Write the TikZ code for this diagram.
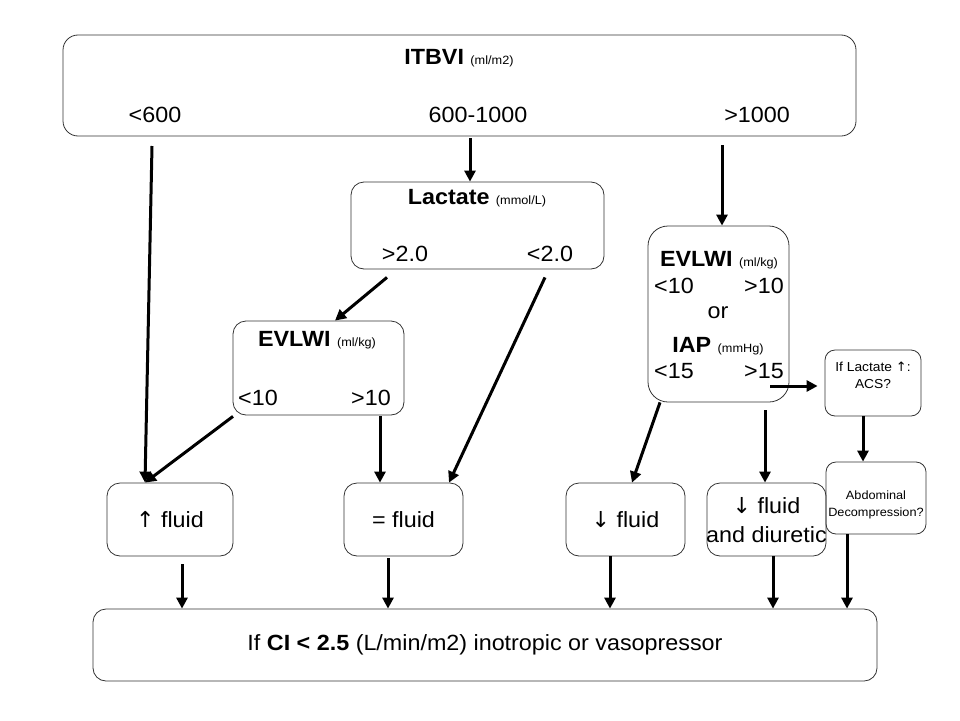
\documentclass[tikz,border=0pt]{standalone}
\usepackage{fontspec}
\setmainfont{Liberation Sans}[FakeStretch=1.06]
\newfontfamily\arrowfont{DejaVu Sans}
\usetikzlibrary{arrows.meta}
\begin{document}
\begin{tikzpicture}[x=1pt,y=-1pt,
  box/.style={draw=black!80, line width=0.8pt, rounded corners=13pt, inner sep=0pt},
  arr/.style={-{Triangle[length=11pt,width=11pt]}, line width=3pt},
  big/.style={font=\fontsize{22}{29}\selectfont, inner sep=0pt, align=center},
  sm/.style={inner sep=0pt, align=center}
]
\useasboundingbox (0,0) rectangle (960,720);
% boxes
\node[box, minimum width=793pt, minimum height=101pt, rounded corners=15pt] (itbvi) at (459.5,85.5) {};
\node[box, minimum width=253pt, minimum height=87pt] (lactate) at (477.5,225.5) {};
\node[box, minimum width=171pt, minimum height=94pt] (evl) at (318.5,368) {};
\node[box, minimum width=141pt, minimum height=176pt, rounded corners=20pt] (evr) at (718.5,314) {};
\node[box, minimum width=96pt, minimum height=66pt, rounded corners=10pt] (iflac) at (873,383) {};
\node[box, minimum width=100pt, minimum height=72pt, rounded corners=10pt] (abd) at (876,498) {};
\node[box, minimum width=126pt, minimum height=73pt] (upfluid) at (170,519.5) {};
\node[box, minimum width=119pt, minimum height=73pt] (eqfluid) at (403.5,519.5) {};
\node[box, minimum width=119pt, minimum height=73pt] (downfluid) at (625.5,519.5) {};
\node[box, minimum width=119pt, minimum height=73pt] (diuretic) at (766.5,519.5) {};
\node[box, minimum width=784pt, minimum height=72pt] (bottom) at (485,645) {};
% texts
\node[big] (t-itbvi) at (459,58) {\textbf{ITBVI} {\fontsize{12}{14}\selectfont (ml/m2)}};
\node[big] (lt600) at (155,115) {<600};
\node[big] (mid) at (478,115) {600-1000};
\node[big] (gt1000) at (757,115) {>1000};
\node[big] (t-lac) at (477,198) {\textbf{Lactate} {\fontsize{12}{14}\selectfont (mmol/L)}};
\node[big] (gt2) at (405,254) {>2.0};
\node[big] (lt2) at (550,254) {<2.0};
\node[big] (t-evl) at (317,340) {\textbf{EVLWI} {\fontsize{12}{14}\selectfont (ml/kg)}};
\node[big] (evl-lt) at (258,398) {<10};
\node[big] (evl-gt) at (371,398) {>10};
\node[big] (t-evr) at (719,260) {\textbf{EVLWI} {\fontsize{12}{14}\selectfont (ml/kg)}};
\node[big] (evr-lt) at (674,286) {<10};
\node[big] (evr-gt) at (764,286) {>10};
\node[big] (evr-or) at (718,313) {or};
\node[big] (t-iap) at (718,346) {\textbf{IAP} {\fontsize{12}{14}\selectfont (mmHg)}};
\node[big] (iap-lt) at (674,371) {<15};
\node[big] (iap-gt) at (764,371) {>15};
\node[sm, font=\fontsize{13}{17}\selectfont] (t-iflac) at (873,375) {If Lactate {\arrowfont ↑}:\\ACS?};
\node[sm, font=\fontsize{12}{17}\selectfont] (t-abd) at (876,505) {Abdominal\\Decompression?};
\node[big] (t-up) at (170,520) {{\arrowfont ↑} fluid};
\node[big] (t-eq) at (403.5,520) {= fluid};
\node[big] (t-down) at (625.5,520) {{\arrowfont ↓} fluid};
\node[big] (t-diu) at (766.5,520) {{\arrowfont ↓} fluid\\and diuretic};
\node[big] (t-bottom) at (485,645) {If \textbf{CI < 2.5} (L/min/m2) inotropic or vasopressor};
% arrows
\draw[arr] ([xshift=-3pt,yshift=-31pt]lt600.center) -- ([xshift=-25pt]upfluid.north);
\draw[arr] ([xshift=10.5pt,yshift=-2pt]itbvi.south) -- ([xshift=-7.5pt]lactate.north);
\draw[arr] ([xshift=-35pt,yshift=-30pt]gt1000.center) -- ([xshift=3.5pt]evr.north);
\draw[arr] ([xshift=-90.5pt,yshift=-8pt]lactate.south) -- ([xshift=16.5pt]evl.north);
\draw[arr] ([xshift=67.5pt,yshift=-8pt]lactate.south) -- ([xshift=45.5pt]eqfluid.north);
\draw[arr] ([xshift=-85.5pt,yshift=-1pt]evl.south) -- ([xshift=-25pt]upfluid.north);
\draw[arr] ([xshift=61.5pt,yshift=-1pt]evl.south) -- ([xshift=-23.5pt]eqfluid.north);
\draw[arr] ([xshift=-58.5pt]evr.south) -- ([xshift=6.5pt]downfluid.north);
\draw[arr] ([xshift=46.5pt,yshift=-8pt]evr.south) -- ([xshift=-1.5pt]diuretic.north);
\draw[arr] ([xshift=-19pt,yshift=-72pt]evr.east) -- ([xshift=-7pt,yshift=-3pt]iflac.west);
\draw[arr] ([xshift=-10pt]iflac.south) -- ([xshift=-13pt]abd.north);
\draw[arr] ([xshift=12pt,yshift=-8pt]upfluid.south) coordinate (b1) -- (b1 |- bottom.north);
\draw[arr] ([xshift=-15.5pt,yshift=-2pt]eqfluid.south) coordinate (b2) -- (b2 |- bottom.north);
\draw[arr] ([xshift=-15.5pt]downfluid.south) coordinate (b3) -- (b3 |- bottom.north);
\draw[arr] ([xshift=6.5pt]diuretic.south) coordinate (b4) -- (b4 |- bottom.north);
\draw[arr] ([xshift=-29pt]abd.south) coordinate (b5) -- (b5 |- bottom.north);
\end{tikzpicture}
\end{document}
